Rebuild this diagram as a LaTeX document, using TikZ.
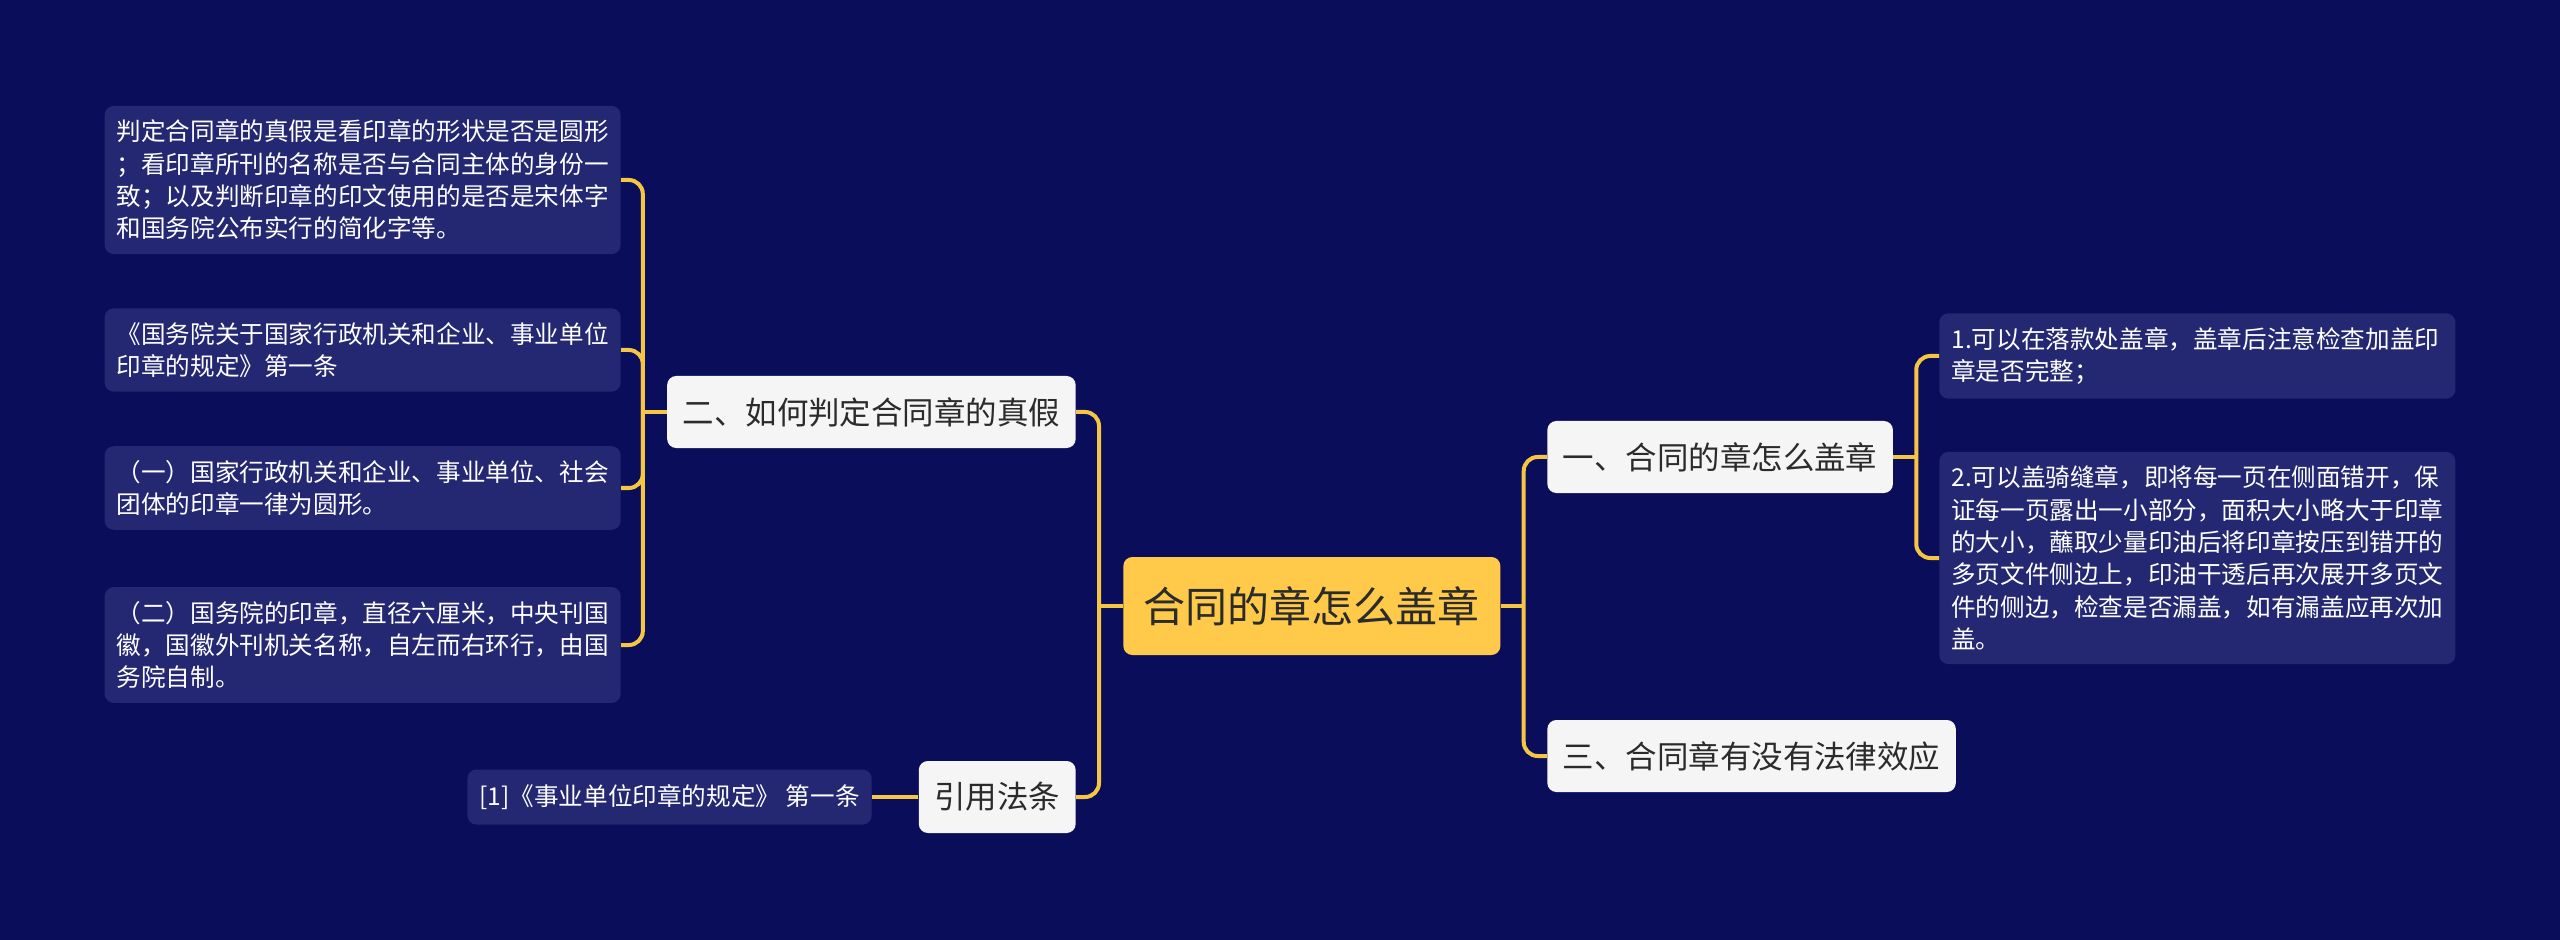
\documentclass[tikz,border=0pt]{standalone}
\usepackage{fontspec}
\setmainfont{Noto Sans CJK SC}
\definecolor{bgc}{HTML}{0A0E5A}
\definecolor{leafc}{HTML}{242872}
\definecolor{topicc}{HTML}{F5F5F5}
\definecolor{rootc}{HTML}{FFCA4A}
\definecolor{linkc}{HTML}{F5C544}
\definecolor{ink}{HTML}{2B2B2B}
\tikzset{
  leafbase/.style={fill=leafc,text=white,rounded corners=0.18cm,align=left,
    inner xsep=0.24cm,inner ysep=0.28cm,
    font=\fontsize{14pt}{18.4pt}\selectfont},
  leaf/.style={leafbase,text width=9.84cm},
  reftext/.style={leafbase,minimum height=1.1cm,inner xsep=0.24cm},
  topic/.style={fill=topicc,text=ink,rounded corners=0.18cm,inner xsep=0.31cm,
    minimum height=1.44cm,font=\fontsize{17.9pt}{21pt}\selectfont},
  root/.style={fill=rootc,text=ink,rounded corners=0.18cm,minimum width=7.54cm,
    minimum height=1.96cm,font=\fontsize{23.9pt}{28pt}\selectfont},
  link/.style={draw=linkc,line width=0.08cm},
}

\begin{document}
\begin{tikzpicture}
  \fill[bgc] (0,0) rectangle (51.2,-18.8);
  \useasboundingbox (0,0) rectangle (51.2,-18.8);

  % centre and main topics
  \node[root,anchor=west] (root) at (22.46,-12.12) {合同的章怎么盖章};
  \node[topic,anchor=east] (judge) at (21.52,-8.24) {二、如何判定合同章的真假};
  \node[topic,anchor=east] (cite) at (21.52,-15.94) {引用法条};
  \node[topic,anchor=west] (how) at (30.94,-9.14) {一、合同的章怎么盖章};
  \node[topic,anchor=west] (valid) at (30.94,-15.12) {三、合同章有没有法律效应};

  % left leaves
  \node[leaf,anchor=east] (judgeA) at (12.42,-3.60)
    {判定合同章的真假是看印章的形状是否是圆形\\
     ；看印章所刊的名称是否与合同主体的身份一\\
     致；以及判断印章的印文使用的是否是宋体字\\
     和国务院公布实行的简化字等。};
  \node[leaf,anchor=east] (judgeB) at (12.42,-7.00)
    {《国务院关于国家行政机关和企业、事业单位\\
     印章的规定》第一条};
  \node[leaf,anchor=east] (judgeC) at (12.42,-9.76)
    {（一）国家行政机关和企业、事业单位、社会\\
     团体的印章一律为圆形。};
  \node[leaf,anchor=east] (judgeD) at (12.42,-12.90)
    {（二）国务院的印章，直径六厘米，中央刊国\\
     徽，国徽外刊机关名称，自左而右环行，由国\\
     务院自制。};
  \node[reftext,anchor=east] (law) at (17.44,-15.94)
    {[1]《事业单位印章的规定》 第一条};

  % right leaves
  \node[leaf,anchor=west] (howA) at (38.78,-7.12)
    {1.可以在落款处盖章，盖章后注意检查加盖印\\
     章是否完整；};
  \node[leaf,anchor=west] (howB) at (38.78,-11.16)
    {2.可以盖骑缝章，即将每一页在侧面错开，保\\
     证每一页露出一小部分，面积大小略大于印章\\
     的大小，蘸取少量印油后将印章按压到错开的\\
     多页文件侧边上，印油干透后再次展开多页文\\
     件的侧边，检查是否漏盖，如有漏盖应再次加\\
     盖。};

  % junctions
  \path (root.west) ++(-0.48,0) coordinate (jrootL);
  \path (root.east) ++(0.46,0) coordinate (jrootR);
  \path (judge.west) ++(-0.48,0) coordinate (jjudge);
  \path (how.east) ++(0.46,0) coordinate (jhow);

  % connectors
  \draw[link] (root.west) -- (jrootL);
  \draw[link] (root.east) -- (jrootR);
  \draw[link] (judge.west) -- (jjudge);
  \draw[link] (how.east) -- (jhow);
  \foreach \c in {judge,cite}
    \draw[link,rounded corners=0.28cm] (jrootL) |- (\c.east);
  \foreach \c in {how,valid}
    \draw[link,rounded corners=0.28cm] (jrootR) |- (\c.west);
  \foreach \c in {judgeA,judgeB,judgeC,judgeD}
    \draw[link,rounded corners=0.28cm] (jjudge) |- (\c.east);
  \foreach \c in {howA,howB}
    \draw[link,rounded corners=0.28cm] (jhow) |- (\c.west);
  \draw[link] (cite.west) -- (law.east);
\end{tikzpicture}
\end{document}
